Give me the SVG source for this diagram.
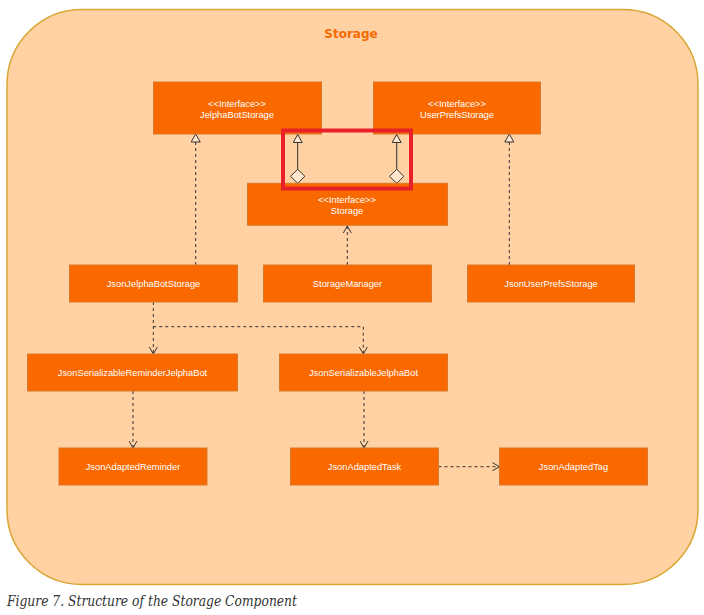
<svg xmlns="http://www.w3.org/2000/svg" width="704" height="615" viewBox="0 0 704 615">
<style>
.node rect{fill:#FA6800;stroke:#D97A2A;stroke-width:1}
.node text{font-family:"Liberation Sans",Arial,sans-serif;font-size:9.3px;fill:#FFFFFF;text-anchor:middle}
.dash{fill:none;stroke:#333333;stroke-width:1;stroke-dasharray:3,3}
.solid{fill:none;stroke:#333333;stroke-width:1}
</style>
<defs>
<marker id="tri" viewBox="0 0 9 10" markerWidth="9" markerHeight="10" refX="8.5" refY="5" orient="auto" markerUnits="userSpaceOnUse">
<path d="M0.5,0.5 L8.5,5 L0.5,9.5 Z" fill="#FFE6CC" stroke="#333333" stroke-width="1"/>
</marker>
<marker id="vee" viewBox="0 0 8 9" markerWidth="8" markerHeight="9" refX="7.5" refY="4.5" orient="auto" markerUnits="userSpaceOnUse">
<path d="M0.5,0.5 L7.5,4.5 L0.5,8.5" fill="none" stroke="#333333" stroke-width="1"/>
</marker>
<marker id="dia" viewBox="0 0 15 16" markerWidth="15" markerHeight="16" refX="0.5" refY="8" orient="auto" markerUnits="userSpaceOnUse">
<path d="M0.5,8 L7.5,0.8 L14.5,8 L7.5,15.2 Z" fill="#FFE6CC" stroke="#333333" stroke-width="1"/>
</marker>
</defs>
<g id="container">
<rect x="7" y="9.5" width="691" height="575" rx="75" ry="75" fill="#FFD1A3" stroke="#D9A533" stroke-width="1.5"/>
<text x="351" y="38" font-family="DejaVu Sans,Verdana,sans-serif" font-size="12" font-weight="bold" fill="#F66A00" text-anchor="middle">Storage</text>
</g>
<g id="connectors">
<path class="dash" d="M195.7,265 L195.7,134" marker-end="url(#tri)"/>
<path class="dash" d="M509.3,265 L509.3,134" marker-end="url(#tri)"/>
<path class="dash" d="M347.3,265 L347.3,226" marker-end="url(#vee)"/>
<path class="solid" d="M297.7,183.3 L297.7,134.5" marker-start="url(#dia)" marker-end="url(#tri)"/>
<path class="solid" d="M396.7,183.3 L396.7,134.5" marker-start="url(#dia)" marker-end="url(#tri)"/>
<path class="dash" d="M153.3,302 L153.3,354" marker-end="url(#vee)"/>
<path class="dash" d="M153.3,326.7 L363.3,326.7 L363.3,354" marker-end="url(#vee)"/>
<path class="dash" d="M133,391 L133,448" marker-end="url(#vee)"/>
<path class="dash" d="M364,391 L364,448" marker-end="url(#vee)"/>
<path class="dash" d="M438.5,466.7 L499.5,466.7" marker-end="url(#vee)"/>
</g>
<g id="JelphaBotStorage" class="node">
<rect x="153.5" y="82" width="168" height="52"/>
<text x="237" y="106.5">&lt;&lt;Interface&gt;&gt;</text>
<text x="237" y="117.5">JelphaBotStorage</text>
</g>
<g id="UserPrefsStorage" class="node">
<rect x="373.5" y="82" width="167" height="52"/>
<text x="457" y="106.5">&lt;&lt;Interface&gt;&gt;</text>
<text x="457" y="117.5">UserPrefsStorage</text>
</g>
<g id="Storage" class="node">
<rect x="247.5" y="183.3" width="200" height="42"/>
<text x="347" y="203.3">&lt;&lt;Interface&gt;&gt;</text>
<text x="347" y="214">Storage</text>
</g>
<g id="JsonJelphaBotStorage" class="node">
<rect x="69.5" y="265" width="168" height="37"/>
<text x="153.5" y="286.6">JsonJelphaBotStorage</text>
</g>
<g id="StorageManager" class="node">
<rect x="263.5" y="265" width="168" height="37"/>
<text x="347.5" y="286.6">StorageManager</text>
</g>
<g id="JsonUserPrefsStorage" class="node">
<rect x="467.5" y="265" width="167" height="37"/>
<text x="551" y="286.6">JsonUserPrefsStorage</text>
</g>
<g id="JsonSerializableReminderJelphaBot" class="node">
<rect x="27.5" y="354" width="210" height="37"/>
<text x="132.5" y="375.6">JsonSerializableReminderJelphaBot</text>
</g>
<g id="JsonSerializableJelphaBot" class="node">
<rect x="279.5" y="354" width="168" height="37"/>
<text x="363.5" y="375.6">JsonSerializableJelphaBot</text>
</g>
<g id="JsonAdaptedReminder" class="node">
<rect x="59" y="448" width="148" height="37"/>
<text x="133" y="469.8">JsonAdaptedReminder</text>
</g>
<g id="JsonAdaptedTask" class="node">
<rect x="290.5" y="448" width="148" height="37"/>
<text x="364.5" y="469.8">JsonAdaptedTask</text>
</g>
<g id="JsonAdaptedTag" class="node">
<rect x="499.5" y="448" width="148" height="37"/>
<text x="573.5" y="469.8">JsonAdaptedTag</text>
</g>
<g id="highlight">
<rect x="283" y="130.5" width="128" height="58" fill="none" stroke="#E8202A" stroke-width="4"/>
</g>
<text x="7" y="606" font-family="DejaVu Serif,Liberation Serif,serif" font-style="italic" font-size="14" fill="#333333" textLength="290" lengthAdjust="spacingAndGlyphs">Figure 7. Structure of the Storage Component</text>
</svg>
